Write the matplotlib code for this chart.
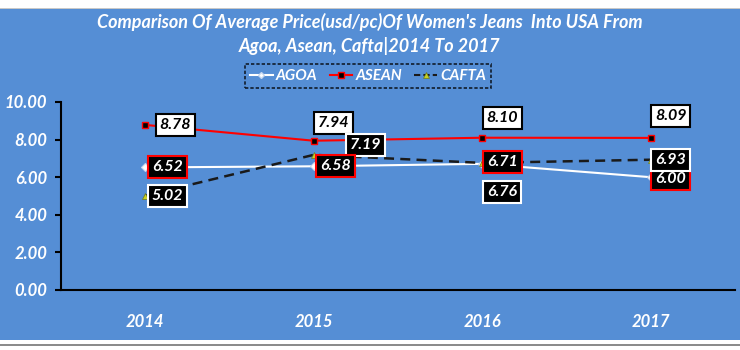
import matplotlib
matplotlib.use("Agg")
import matplotlib.pyplot as plt
from matplotlib.patches import Rectangle
from matplotlib.lines import Line2D

years = ["2014", "2015", "2016", "2017"]
agoa = [6.52, 6.58, 6.71, 6.00]
asean = [8.78, 7.94, 8.10, 8.09]
cafta = [5.02, 7.19, 6.76, 6.93]
yticks = [0, 2, 4, 6, 8, 10]

BLUE = "#558ED5"
FONT = "Lato"
plt.rcParams["font.family"] = [FONT, "DejaVu Sans"]

fig = plt.figure(figsize=(7.4, 3.5), dpi=100, facecolor=BLUE)
# white strips top/bottom
fig.patches.append(Rectangle((0, 1 - 8/350), 1, 8/350, transform=fig.transFigure,
                             facecolor="white", edgecolor="none", zorder=0))
fig.patches.append(Rectangle((0, 1 - 9/350), 1, 1.2/350, transform=fig.transFigure,
                             facecolor="#C8C8C8", edgecolor="none", zorder=0))
fig.patches.append(Rectangle((0, 0), 1, 10/350, transform=fig.transFigure,
                             facecolor="white", edgecolor="none", zorder=0))
fig.patches.append(Rectangle((0, 4/350), 1, 2/350, transform=fig.transFigure,
                             facecolor="#8C8C8C", edgecolor="none", zorder=0))

ax = fig.add_axes([61/740, 60/350, 674/740, 188/350])
ax.set_facecolor(BLUE)
x = list(range(len(years)))

ax.plot(x, agoa, color="white", lw=1.5, marker="D", ms=4, mfc="white",
        mec="#C8D8F0", mew=0.8, zorder=3)
ax.plot(x, asean, color="#FF0000", lw=1.5, marker="s", ms=5, mfc="black",
        mec="#FF0000", mew=1, zorder=3)
ax.plot(x, cafta, color="#1A1A1A", lw=1.8, ls=(0, (4, 2.5)), marker="^", ms=5,
        mfc="#C8D020", mec="#6A7A20", mew=0.5, zorder=3)

ax.set_xlim(-0.5, 3.5)
ax.set_ylim(0, 10)
ax.set_yticks(yticks)
ax.set_yticklabels([f"{v:.2f}" for v in yticks])
ax.set_xticks(x)
ax.set_xticklabels(years)
for s in ["top", "right"]:
    ax.spines[s].set_visible(False)
ax.spines["left"].set_color("black")
ax.spines["left"].set_linewidth(1.5)
ax.spines["bottom"].set_color("black")
ax.spines["bottom"].set_linewidth(1.5)
ax.tick_params(axis="y", colors="black", length=4, width=1.5, pad=6)
ax.tick_params(axis="x", length=0, pad=17)
for lab in ax.get_yticklabels() + ax.get_xticklabels():
    lab.set_color("white")
    lab.set_fontweight("bold")
    lab.set_fontstyle("italic")
    lab.set_fontsize(12)

def label(i, val, series, dx, dy):
    if series == "agoa":
        fc, ec, tc = "black", "#FF0000", "white"
    elif series == "asean":
        fc, ec, tc = "white", "black", "black"
    else:
        fc, ec, tc = "black", "white", "white"
    ax.annotate(f"{val:.2f}", (i, val), xytext=(dx, dy), textcoords="offset pixels",
                ha="center", va="center", color=tc, fontsize=11.5, fontweight="bold",
                fontstyle="italic", zorder=5,
                bbox=dict(boxstyle="square,pad=0.25", fc=fc, ec=ec, lw=1.5))

# 2014
label(0, asean[0], "asean", 30, 0)
label(0, agoa[0], "agoa", 22, 0)
label(0, cafta[0], "cafta", 22, 0)
# 2015
label(1, asean[1], "asean", 20, 18)
label(1, cafta[1], "cafta", 52, 10)
label(1, agoa[1], "agoa", 22, 0)
# 2016
label(2, asean[2], "asean", 20, 20)
label(2, cafta[2], "cafta", 20, -29)
label(2, agoa[2], "agoa", 20, 2)
# 2017
label(3, asean[3], "asean", 20, 22)
label(3, agoa[3], "agoa", 20, -2)
label(3, cafta[3], "cafta", 20, 0)

fig.text(0.5, 1 - 22/350, "Comparison Of Average Price(usd/pc)Of Women's Jeans  Into USA From",
         ha="center", va="center", color="white", fontsize=13, fontweight="bold",
         fontstyle="italic")
fig.text(0.5, 1 - 46/350, "Agoa, Asean, Cafta|2014 To 2017",
         ha="center", va="center", color="white", fontsize=13, fontweight="bold",
         fontstyle="italic")

handles = [
    Line2D([], [], color="white", lw=1.5, marker="D", ms=3, mfc="white", mec="#C8D8F0"),
    Line2D([], [], color="#FF0000", lw=1.5, marker="s", ms=5, mfc="black", mec="#FF0000"),
    Line2D([], [], color="#1A1A1A", lw=1.5, ls=(0, (3, 1.5)), marker="^", ms=5,
           mfc="#C8D020", mec="#6A7A20", mew=0.5),
]
leg = fig.legend(handles, ["AGOA", "ASEAN", "CAFTA"], loc="center",
                 bbox_to_anchor=(368/740, 1 - 76/350), ncol=3, frameon=True,
                 fancybox=False, handlelength=1.5, handletextpad=0.2,
                 columnspacing=0.8, borderpad=0.3, fontsize=11)
leg.get_frame().set_facecolor(BLUE)
leg.get_frame().set_edgecolor("black")
leg.get_frame().set_linestyle((0, (2, 1.2)))
leg.get_frame().set_linewidth(1.2)
for t in leg.get_texts():
    t.set_color("white")
    t.set_fontweight("bold")
    t.set_fontstyle("italic")

fig.savefig("out.png", dpi=100, facecolor=BLUE)
